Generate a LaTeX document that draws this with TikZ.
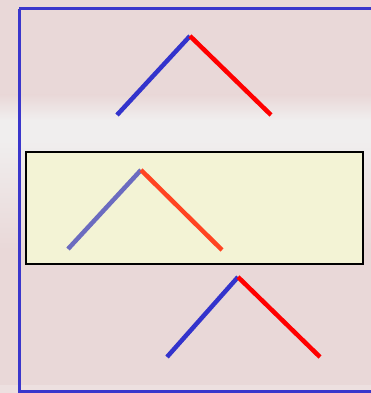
\documentclass[tikz,border=0pt]{standalone}
\definecolor{bgpink}{HTML}{E9D8D8}
\definecolor{bgwhite}{HTML}{F0EEEE}
\definecolor{frameblue}{HTML}{3A36CC}
\definecolor{lblue}{HTML}{3333CC}
\definecolor{lred}{HTML}{FF0000}
\definecolor{mblue}{HTML}{6B6BC0}
\definecolor{mred}{HTML}{FF4422}
\definecolor{boxfill}{HTML}{F3F3D5}
\tikzset{
  arm/.style={line width=4.5pt},
  frame/.style={draw=frameblue,line width=3pt},
  yellowbox/.style={draw=black,line width=1.5pt,fill=boxfill}
}
\begin{document}
\begin{tikzpicture}[x=1pt,y=-1pt]
\useasboundingbox (0,0) rectangle (371,393);
% background
\fill[bgpink] (0,0) rectangle (371,393);
\shade[top color=bgpink,bottom color=bgwhite] (0,95) rectangle (371,120);
\fill[bgwhite] (0,120) rectangle (371,140);
\shade[top color=bgwhite,bottom color=bgpink] (0,140) rectangle (371,250);
\fill[bgpink!60!white,opacity=0.5] (0,385) rectangle (371,393);
% outer frame
\draw[frame] (19,9) -- (374,9) (19,9) -- (19,391) -- (374,391);
% yellow box
\draw[yellowbox] (26,152) rectangle (363,264);
% top chevron
\coordinate (tl) at (117,115);
\coordinate (ta) at (190,36);
\coordinate (tr) at (271,115);
\draw[arm,lblue] (tl) -- (ta);
\draw[arm,lred] (ta) -- (tr);
% middle chevron
\coordinate (ml) at (68,249);
\coordinate (ma) at (141,170);
\coordinate (mr) at (222,250);
\draw[arm,mblue] (ml) -- (ma);
\draw[arm,mred] (ma) -- (mr);
% bottom chevron
\coordinate (bl) at (167,357);
\coordinate (ba) at (238,277);
\coordinate (br) at (320,357);
\draw[arm,lblue] (bl) -- (ba);
\draw[arm,lred] (ba) -- (br);
\end{tikzpicture}
\end{document}
